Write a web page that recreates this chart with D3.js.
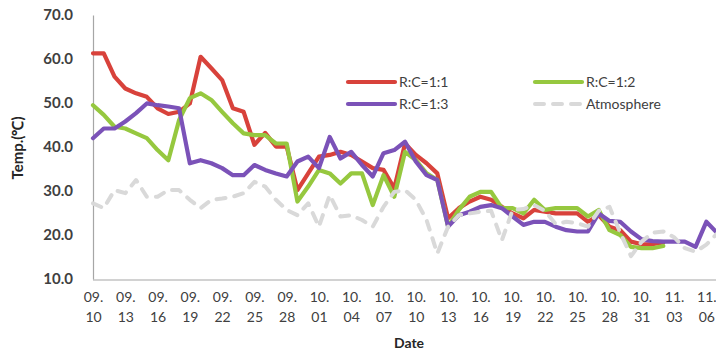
<!DOCTYPE html>
<html>
<head>
<meta charset="utf-8">
<script src="https://cdn.jsdelivr.net/npm/d3@7/dist/d3.min.js"></script>
<style>
  html, body { margin: 0; padding: 0; background: #fff; }
  svg { display: block; }
</style>
</head>
<body>
<svg id="chart" width="716" height="353"></svg>
<script>
// Daily sampling dates, 09.10 through 11.07
const dates = [
  "09.10","09.11","09.12","09.13","09.14","09.15","09.16","09.17","09.18","09.19",
  "09.20","09.21","09.22","09.23","09.24","09.25","09.26","09.27","09.28","09.29",
  "09.30","10.01","10.02","10.03","10.04","10.05","10.06","10.07","10.08","10.09",
  "10.10","10.11","10.12","10.13","10.14","10.15","10.16","10.17","10.18","10.19",
  "10.20","10.21","10.22","10.23","10.24","10.25","10.26","10.27","10.28","10.29",
  "10.30","10.31","11.01","11.02","11.03","11.04","11.05","11.06","11.07"
];

// Labelled dates on the x axis (every third day)
const tickDates = ["09.10","09.13","09.16","09.19","09.22","09.25","09.28","10.01","10.04","10.07",
                   "10.10","10.13","10.16","10.19","10.22","10.25","10.28","10.31","11.03","11.06"];

// Pile temperature (℃) for each residue:compost ratio, plus ambient air
const rc11 = [61.3,61.3,56.0,53.3,52.2,51.4,48.8,47.5,48.0,49.9,
              60.5,57.9,55.2,48.8,48.0,40.5,43.2,40.1,40.1,30.2,
              34.0,37.8,38.2,38.9,38.2,36.7,35.2,34.8,30.6,40.8,
              38.2,36.3,34.0,23.8,26.1,27.6,28.7,28.0,26.4,24.9,
              23.8,25.7,25.3,24.9,24.9,24.9,23.0,24.5,21.9,21.1,
              18.5,17.9,17.9,18.3];
const rc12 = [49.5,47.3,44.6,44.2,43.1,42.0,39.3,37.0,46.1,51.1,
              52.2,50.7,48.0,45.4,43.1,42.7,42.7,40.8,40.8,27.6,
              31.0,34.8,34.0,31.7,34.0,34.0,26.8,33.6,28.7,38.9,
              37.0,34.0,32.5,21.9,25.7,28.7,29.8,29.8,26.1,26.1,
              24.9,28.0,25.7,26.1,26.1,26.1,24.2,25.7,21.1,20.0,
              17.3,17.0,17.0,17.5];
const rc13 = [42.0,44.2,44.2,45.8,47.7,49.9,49.5,49.2,48.8,36.3,
              37.0,36.3,35.2,33.6,33.6,35.9,34.8,34.0,33.3,36.7,
              37.8,35.2,42.3,37.4,38.9,35.9,33.3,38.6,39.3,41.2,
              36.7,33.6,32.5,21.9,24.5,25.3,26.4,26.8,26.1,24.2,
              22.3,23.0,23.0,21.9,21.1,20.8,20.8,24.9,23.2,23.0,
              20.8,19.0,18.6,18.5,18.5,18.5,17.3,23.0,20.5];
const atmosphere = [27.2,26.1,30.2,29.5,32.5,28.7,28.7,30.2,30.2,28.0,
                    26.1,28.0,28.3,28.7,29.5,32.1,31.0,28.0,25.7,24.5,
                    27.2,21.9,29.1,24.2,24.5,23.4,21.9,26.4,29.8,30.2,
                    28.0,23.4,15.8,21.9,24.5,24.9,25.3,25.5,18.8,25.7,
                    25.9,26.8,25.5,22.5,23.0,22.7,21.9,25.5,26.4,20.5,
                    15.2,18.5,20.5,20.8,19.5,17.0,16.2,17.8,20.3];

const yTicks = [10, 20, 30, 40, 50, 60, 70];

const seriesNames = ["R:C=1:1", "R:C=1:2", "R:C=1:3", "Atmosphere"];
const seriesData = [rc11, rc12, rc13, atmosphere];
const seriesColors = ["#d8423b", "#96c83f", "#7b52b8", "#d9d9d9"];

const svg = d3.select("#chart");
const fontFamily = "Lato, 'Open Sans', sans-serif";

const x = d3.scalePoint().domain(dates).range([93, 93 + 58 * 10.76]).padding(0);
const y = d3.scaleLinear().domain([10, 70]).range([279, 15]);

// Y axis
const yAxis = svg.append("g")
  .attr("transform", "translate(93,0)")
  .call(d3.axisLeft(y).tickValues(yTicks).tickFormat(d3.format(".1f")).tickSize(0).tickPadding(20));
yAxis.select(".domain").attr("stroke", "#a6a6a6").attr("stroke-width", 1.2);
yAxis.selectAll("text")
  .attr("font-family", fontFamily).attr("font-size", 15).attr("font-weight", "bold").attr("fill", "#404040");

// X axis with two-line date labels
const xAxis = svg.append("g")
  .attr("transform", "translate(0,280)")
  .call(d3.axisBottom(x).tickValues(tickDates).tickSize(0).tickPadding(0));
xAxis.select(".domain").attr("stroke", "#a6a6a6").attr("stroke-width", 1.2)
  .attr("d", "M93,0H716");
xAxis.selectAll("text")
  .attr("font-family", fontFamily).attr("font-size", 14).attr("fill", "#404040")
  .attr("dy", null).attr("y", 0)
  .each(function(d) {
    const t = d3.select(this).text("");
    const parts = d.split(".");
    t.append("tspan").attr("x", 0).attr("y", 22).text(parts[0] + ".");
    t.append("tspan").attr("x", 0).attr("y", 42).text(parts[1]);
  });

// Axis titles
svg.append("text")
  .attr("x", 409).attr("y", 348).attr("text-anchor", "middle")
  .attr("font-family", fontFamily).attr("font-size", 14).attr("font-weight", "bold").attr("fill", "#262626")
  .text("Date");
svg.append("text")
  .attr("transform", "translate(23,148) rotate(-90)").attr("text-anchor", "middle")
  .attr("font-family", fontFamily).attr("font-size", 15).attr("font-weight", "bold").attr("fill", "#262626")
  .text("Temp.(℃)");

// Series lines
const line = d3.line()
  .x((d, i) => x(dates[i]))
  .y(d => y(d));

seriesData.forEach((vals, k) => {
  const path = svg.append("path")
    .datum(vals)
    .attr("fill", "none")
    .attr("stroke", seriesColors[k])
    .attr("stroke-width", 4.2)
    .attr("stroke-linejoin", "round")
    .attr("stroke-linecap", "round")
    .attr("d", line);
  if (k === 3) path.attr("stroke-dasharray", "9,9").attr("stroke-width", 4);
});

// Legend, two columns
const legendPos = [[348, 82], [535, 82], [348, 104], [535, 104]];
seriesNames.forEach((name, k) => {
  const [lx, ly] = legendPos[k];
  const seg = svg.append("line")
    .attr("x1", lx).attr("x2", lx + 47).attr("y1", ly).attr("y2", ly)
    .attr("stroke", seriesColors[k]).attr("stroke-width", 4.2).attr("stroke-linecap", "round");
  if (k === 3) seg.attr("stroke-dasharray", "9,9").attr("stroke-width", 4);
  svg.append("text")
    .attr("x", lx + 51).attr("y", ly + 5)
    .attr("font-family", fontFamily).attr("font-size", 14).attr("fill", "#404040")
    .text(name);
});
</script>
</body>
</html>
